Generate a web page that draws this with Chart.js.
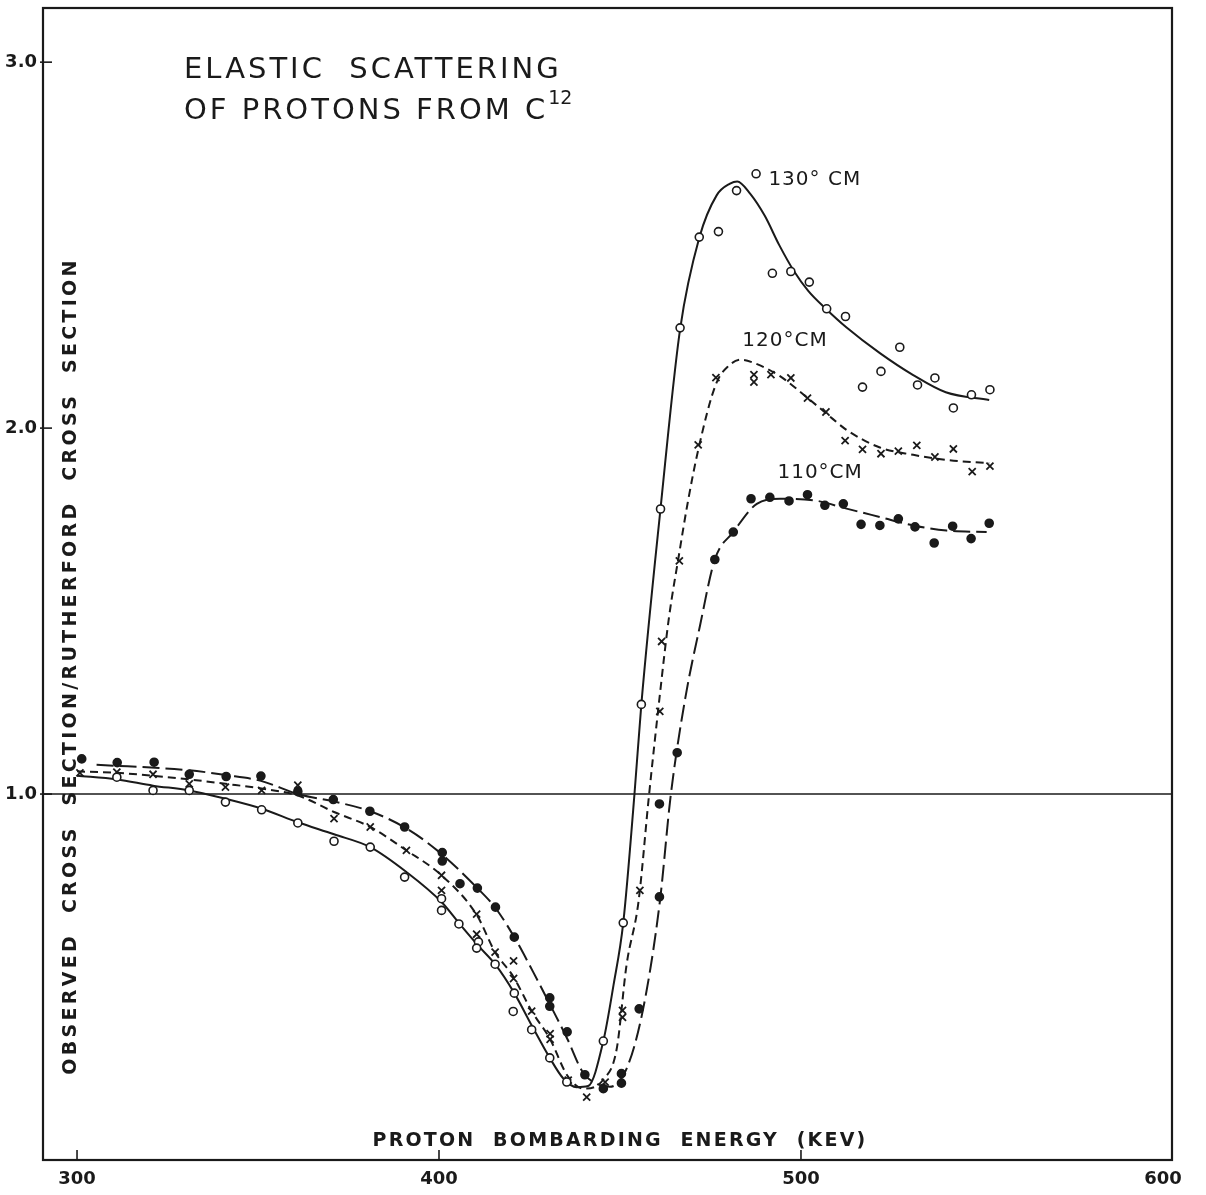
<!DOCTYPE html>
<html>
<head>
<meta charset="utf-8">
<title>Elastic scattering of protons from C12</title>
<script src="https://cdn.jsdelivr.net/npm/chart.js@4.4.1/dist/chart.umd.min.js"></script>
<style>
  html, body { margin: 0; padding: 0; background: #fff; }
  #wrap { width: 1206px; height: 1195px; position: relative; }
</style>
</head>
<body>
<div id="wrap"><canvas id="chart"></canvas></div>
<script>
"use strict";

const E130 = [311, 321, 331, 341, 351, 361, 371, 381, 390.5, 400.7, 400.7, 405.5, 410.9, 410.4, 415.5,
  420.8, 420.5, 425.6, 430.6, 435.3, 445.4, 450.9, 455.9, 461.2, 466.6, 471.9, 477.2, 482.2, 487.6,
  492.1, 497.2, 502.3, 507.1, 512.3, 517, 522.1, 527.3, 532.2, 537, 542.1, 547.1, 552.2];
const R130 = [1.046, 1.01, 1.01, 0.978, 0.957, 0.921, 0.871, 0.855, 0.773, 0.714, 0.682, 0.645, 0.596, 0.579, 0.535,
  0.456, 0.406, 0.356, 0.279, 0.213, 0.325, 0.648, 1.245, 1.779, 2.274, 2.522, 2.537, 2.649, 2.695,
  2.423, 2.428, 2.399, 2.326, 2.305, 2.112, 2.155, 2.221, 2.118, 2.137, 2.055, 2.091, 2.105];

const E120 = [300.8, 311, 321, 331, 341, 351, 361, 371, 381, 391, 400.7, 400.7, 410.4, 410.4, 415.5, 420.6,
  420.6, 425.6, 430.7, 430.7, 435.7, 440.8, 445.9, 450.7, 450.7, 455.5, 461, 461.5, 466.4, 471.6, 476.5,
  487, 487, 491.7, 497.2, 501.8, 506.9, 512.2, 517, 522.1, 526.9, 532, 537, 542.1, 547.3, 552.2];
const R120 = [1.058, 1.06, 1.054, 1.028, 1.019, 1.01, 1.024, 0.933, 0.91, 0.846, 0.778, 0.737, 0.672, 0.617, 0.568, 0.544,
  0.496, 0.407, 0.345, 0.33, 0.218, 0.172, 0.213, 0.409, 0.39, 0.737, 1.226, 1.417, 1.637, 1.954, 2.138,
  2.146, 2.126, 2.146, 2.137, 2.082, 2.044, 1.966, 1.942, 1.93, 1.937, 1.953, 1.921, 1.943, 1.881, 1.896];

const E110 = [301.3, 311.1, 321.3, 331, 341.2, 350.8, 361, 370.8, 380.9, 390.5, 400.9, 400.9, 405.8, 410.6,
  415.6, 420.8, 430.6, 430.6, 435.4, 440.3, 445.4, 450.4, 450.4, 455.3, 460.9, 460.9, 465.8, 476.2, 481.3,
  486.2, 491.4, 496.7, 501.8, 506.6, 511.7, 516.6, 521.8, 526.9, 531.5, 536.8, 541.9, 547, 552];
const R110 = [1.096, 1.086, 1.087, 1.054, 1.048, 1.049, 1.007, 0.985, 0.953, 0.91, 0.84, 0.817, 0.755, 0.743,
  0.691, 0.609, 0.443, 0.42, 0.35, 0.233, 0.195, 0.236, 0.21, 0.413, 0.719, 0.973, 1.113, 1.641, 1.716,
  1.807, 1.811, 1.801, 1.818, 1.789, 1.793, 1.737, 1.734, 1.752, 1.73, 1.686, 1.732, 1.698, 1.74];

// hand-drawn curves through the points
const FIT_E130 = [300, 311, 321, 331, 341, 351, 361, 371, 381, 391, 400.7, 405.8, 410.9, 415.5, 420.8, 425.6,
  430.6, 434.4, 438, 441.2, 445.4, 448.2, 450.9, 454, 455.9, 461.2, 466.6, 471.9, 476.7, 480.4, 482.4, 486,
  490, 494, 498, 502, 507, 512.6, 521.8, 531, 540, 552];
const FIT_R130 = [1.05, 1.04, 1.023, 1.01, 0.987, 0.96, 0.923, 0.89, 0.855, 0.787, 0.705, 0.644, 0.585, 0.535, 0.456, 0.368,
  0.279, 0.222, 0.199, 0.202, 0.325, 0.477, 0.648, 1.0, 1.245, 1.78, 2.27, 2.52, 2.636, 2.668, 2.674, 2.64,
  2.58, 2.5, 2.43, 2.375, 2.325, 2.275, 2.205, 2.145, 2.098, 2.077];

const FIT_E120 = [300, 311, 321, 331, 341, 351, 361, 371, 381, 391, 400.7, 410.4, 415.5, 420.6, 425.6, 430.7,
  435.5, 440, 445.4, 449.1, 451.8, 455.1, 458, 461, 463.5, 466.4, 468.6, 471.6, 476.5, 480, 483.5, 487, 494.2,
  501.5, 507, 512.6, 521.8, 531, 540.2, 552];
const FIT_R120 = [1.062, 1.058, 1.05, 1.04, 1.028, 1.015, 0.996, 0.951, 0.91, 0.846, 0.778, 0.67, 0.568, 0.5, 0.407, 0.33,
  0.23, 0.195, 0.22, 0.304, 0.532, 0.705, 0.995, 1.27, 1.48, 1.66, 1.79, 1.94, 2.12, 2.17, 2.187, 2.178, 2.142,
  2.085, 2.04, 1.995, 1.947, 1.927, 1.913, 1.904];

const FIT_E110 = [305.4, 331, 341, 350.8, 361, 370.8, 381, 391, 400, 410.4, 415.5, 420.8, 426, 430.7, 435.5,
  439.7, 442.6, 447.2, 451.8, 456.4, 461, 464, 468, 472.1, 476.2, 481.3, 487.8, 494.2, 503.4, 512.6, 521.8,
  531, 540.2, 551.3];
const FIT_R110 = [1.08, 1.065, 1.052, 1.036, 1.0, 0.98, 0.953, 0.906, 0.842, 0.745, 0.69, 0.609, 0.514, 0.424, 0.33,
  0.24, 0.213, 0.2, 0.249, 0.413, 0.705, 0.995, 1.26, 1.46, 1.641, 1.716, 1.793, 1.807, 1.803, 1.78, 1.757,
  1.734, 1.72, 1.716];

const X_TICKS = [300, 400, 500, 600];
const Y_TICKS = [1, 2, 3];
const CURVE_LABELS = [
  { text: "130° CM", x: 491, y: 2.665 },
  { text: "120°CM", x: 483.8, y: 2.225 },
  { text: "110°CM", x: 493.5, y: 1.865 },
];

const INK = "#1a1a1a";
const zip = (xs, ys) => xs.map((x, i) => ({ x, y: ys[i] }));

function pointSet(xs, ys, style, fill) {
  return {
    data: zip(xs, ys), showLine: false, order: 0,
    pointStyle: style, pointRadius: style === "crossRot" ? 5 : 4,
    pointBackgroundColor: fill, pointBorderColor: INK, pointBorderWidth: style === "crossRot" ? 1.8 : 1.6,
  };
}
function curveSet(xs, ys, dash) {
  return {
    data: zip(xs, ys), showLine: true, order: 1, pointRadius: 0,
    borderColor: INK, borderWidth: 2, borderDash: dash, cubicInterpolationMode: "monotone",
  };
}

// frame, unit line, inner ticks and all the lettering
const decor = {
  id: "decor",
  beforeDatasetsDraw(chart) {
    const { ctx, chartArea: a, scales: { x, y } } = chart;
    ctx.save();
    ctx.strokeStyle = INK;
    ctx.lineWidth = 1.6;
    const y1 = y.getPixelForValue(1);
    ctx.beginPath(); ctx.moveTo(a.left, y1); ctx.lineTo(a.right, y1); ctx.stroke();
    ctx.lineWidth = 2.2;
    ctx.strokeRect(a.left, a.top, a.right - a.left, a.bottom - a.top);
    ctx.lineWidth = 1.6;
    Y_TICKS.forEach((v) => {
      const py = y.getPixelForValue(v);
      ctx.beginPath(); ctx.moveTo(a.left - 3, py); ctx.lineTo(a.left + 9, py); ctx.stroke();
    });
    X_TICKS.slice(0, 3).forEach((v) => {
      const px = x.getPixelForValue(v);
      ctx.beginPath(); ctx.moveTo(px, a.bottom); ctx.lineTo(px, a.bottom - 10); ctx.stroke();
    });
    ctx.restore();
  },
  afterDraw(chart) {
    const { ctx, scales: { x, y } } = chart;
    ctx.save();
    ctx.fillStyle = INK;
    ctx.textBaseline = "alphabetic";

    ctx.font = "29px 'DejaVu Sans'";
    ctx.letterSpacing = "3px";
    ctx.fillText("ELASTIC  SCATTERING", 184, 78);
    ctx.fillText("OF PROTONS FROM C", 184, 119);
    const w = ctx.measureText("OF PROTONS FROM C").width;
    ctx.font = "19px 'DejaVu Sans'";
    ctx.letterSpacing = "0px";
    ctx.fillText("12", 184 + w, 104);

    ctx.font = "20px 'DejaVu Sans'";
    ctx.letterSpacing = "1px";
    CURVE_LABELS.forEach((l) => ctx.fillText(l.text, x.getPixelForValue(l.x), y.getPixelForValue(l.y)));

    ctx.font = "bold 19px 'DejaVu Sans'";
    ctx.letterSpacing = "2.2px";
    ctx.textAlign = "center";
    ctx.fillText("PROTON  BOMBARDING  ENERGY  (KEV)", 620, 1146);

    ctx.translate(76, 666);
    ctx.rotate(-Math.PI / 2);
    ctx.letterSpacing = "3.3px";
    ctx.fillText("OBSERVED  CROSS  SECTION/RUTHERFORD  CROSS  SECTION", 0, 0);
    ctx.restore();
  },
};

new Chart(document.getElementById("chart"), {
  type: "scatter",
  data: {
    datasets: [
      pointSet(E130, R130, "circle", "#fff"),
      pointSet(E120, R120, "crossRot", INK),
      pointSet(E110, R110, "circle", INK),
      curveSet(FIT_E130, FIT_R130, []),
      curveSet(FIT_E120, FIT_R120, [8, 5]),
      curveSet(FIT_E110, FIT_R110, [17, 6]),
    ],
  },
  options: {
    responsive: true,
    maintainAspectRatio: false,
    animation: false,
    layout: { padding: { top: 8, right: 34, left: 0, bottom: 0 } },
    plugins: { legend: { display: false }, tooltip: { enabled: false } },
    scales: {
      x: {
        type: "linear", min: 290.6, max: 602.5,
        afterBuildTicks: (s) => { s.ticks = X_TICKS.map((v) => ({ value: v })); },
        afterFit: (s) => { s.height = 35; s.paddingLeft = 0; s.paddingRight = 0; },
        grid: { display: false, drawTicks: false },
        border: { display: false },
        ticks: { padding: 9, color: INK, font: { family: "DejaVu Sans", size: 18, weight: "bold" } },
      },
      y: {
        type: "linear", min: 0, max: 3.148,
        afterBuildTicks: (s) => { s.ticks = Y_TICKS.map((v) => ({ value: v })); },
        afterFit: (s) => { s.width = 43; s.paddingTop = 0; s.paddingBottom = 0; },
        grid: { display: false, drawTicks: false },
        border: { display: false },
        ticks: { padding: 6, color: INK, callback: (v) => v.toFixed(1),
          font: { family: "DejaVu Sans", size: 18, weight: "bold" } },
      },
    },
  },
  plugins: [decor],
});
</script>
</body>
</html>
